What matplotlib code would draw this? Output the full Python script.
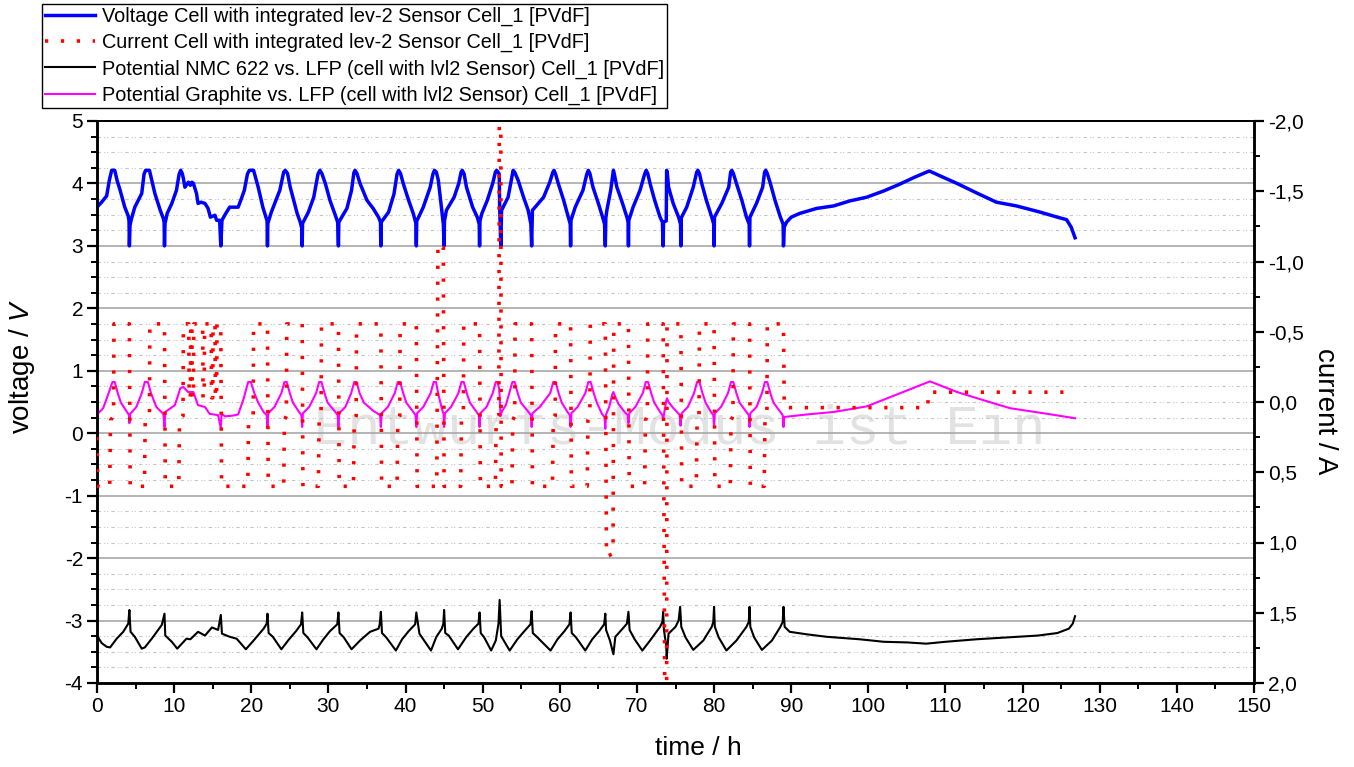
import matplotlib
matplotlib.use("Agg")
import numpy as np
import matplotlib.pyplot as plt
from matplotlib.ticker import MultipleLocator, FuncFormatter

plt.rcParams['font.family'] = ['Liberation Sans', 'DejaVu Sans']
plt.rcParams['axes.unicode_minus'] = False
plt.rcParams['mathtext.fontset'] = 'custom'
plt.rcParams['mathtext.rm'] = 'Liberation Sans'
plt.rcParams['mathtext.it'] = 'Liberation Sans:italic'

# (time / h, voltage / V)
voltage_pts = [
    (0.0, 3.62), (0.6, 3.70), (1.25, 3.80), (1.6, 4.05), (1.9, 4.21), (2.3, 4.21), (2.6, 4.05), (3.0, 3.89),
    (3.6, 3.62), (4.05, 3.48), (4.15, 3.40), (4.2, 3.0),
    (4.28, 3.33), (4.5, 3.45), (4.9, 3.62), (5.8, 3.84), (6.1, 4.15), (6.3, 4.21), (6.8, 4.21), (7.5, 3.84),
    (8.2, 3.57), (8.6, 3.44), (8.7, 3.38), (8.75, 3.0),
    (8.82, 3.36), (9.1, 3.52), (9.7, 3.68), (10.3, 3.89), (10.65, 4.15), (10.85, 4.21), (11.05, 4.16),
    (11.2, 4.08), (11.4, 3.94), (11.85, 4.02), (12.1, 3.97), (12.3, 4.02), (12.5, 4.0), (12.9, 3.84),
    (13.1, 3.68), (13.5, 3.70), (14.0, 3.68), (14.4, 3.60), (14.7, 3.46), (15.3, 3.49), (15.5, 3.41),
    (15.9, 3.41), (16.05, 3.0),
    (16.2, 3.41), (16.6, 3.50), (17.2, 3.62), (18.3, 3.62), (18.7, 3.75), (19.1, 3.89), (19.5, 4.15),
    (19.75, 4.21), (20.3, 4.21), (20.9, 3.94), (21.5, 3.62), (21.9, 3.46), (22.05, 3.40), (22.1, 3.0),
    (22.15, 3.36), (22.6, 3.54), (23.2, 3.73), (23.7, 3.89), (24.2, 4.18), (24.4, 4.21), (24.7, 4.16),
    (25.05, 3.94), (25.5, 3.73), (25.95, 3.52), (26.35, 3.38), (26.55, 3.28), (26.6, 3.0),
    (26.65, 3.36), (27.4, 3.54), (28.1, 3.78), (28.65, 4.15), (28.9, 4.21), (29.15, 4.16), (29.6, 4.0),
    (30.2, 3.73), (30.9, 3.49), (31.2, 3.38), (31.3, 3.0),
    (31.35, 3.38), (32.4, 3.60), (33.0, 3.89), (33.3, 4.17), (33.45, 4.21), (33.7, 4.16), (34.1, 4.0),
    (35.0, 3.73), (35.8, 3.60), (36.5, 3.46), (36.75, 3.38), (36.8, 3.0),
    (36.85, 3.38), (37.8, 3.54), (38.5, 3.83), (38.9, 4.15), (39.1, 4.21), (39.35, 4.16), (39.7, 4.0),
    (40.4, 3.73), (41.0, 3.52), (41.35, 3.36), (41.4, 3.0),
    (41.45, 3.40), (41.7, 3.46), (42.3, 3.62), (43.2, 3.94), (43.55, 4.15), (43.75, 4.21), (44.0, 4.18),
    (44.25, 4.05), (44.7, 3.57), (44.9, 3.35), (45.0, 3.0),
    (45.05, 3.40), (45.3, 3.57), (46.3, 3.78), (46.9, 4.0), (47.2, 4.18), (47.35, 4.21), (47.6, 4.15),
    (47.9, 3.94), (48.7, 3.62), (49.3, 3.46), (49.55, 3.35), (49.6, 3.0),
    (49.65, 3.40), (49.9, 3.52), (50.6, 3.73), (51.3, 4.0), (51.65, 4.18), (51.8, 4.21), (52.0, 4.18),
    (52.15, 4.15), (52.2, 3.65), (52.35, 3.0),
    (52.45, 3.57), (53.3, 3.78), (53.7, 4.05), (53.95, 4.21), (54.15, 4.18), (54.6, 4.05), (55.3, 3.78),
    (55.9, 3.57), (56.25, 3.35), (56.35, 3.0),
    (56.45, 3.57), (56.8, 3.62), (57.9, 3.78), (58.7, 4.02), (59.1, 4.18), (59.25, 4.21), (59.45, 4.15),
    (59.8, 4.0), (60.5, 3.73), (61.1, 3.46), (61.35, 3.35), (61.4, 3.0),
    (61.45, 3.41), (62.0, 3.62), (63.0, 3.89), (63.5, 4.15), (63.7, 4.21), (63.9, 4.16), (64.3, 3.94),
    (65.0, 3.68), (65.55, 3.46), (65.8, 3.35), (65.9, 3.0),
    (65.97, 3.45), (66.1, 3.57), (66.6, 3.89), (66.95, 4.21), (67.05, 4.16), (67.4, 3.94), (68.0, 3.73),
    (68.7, 3.46), (68.85, 3.38), (68.9, 3.0),
    (68.95, 3.41), (69.5, 3.62), (70.4, 3.89), (71.0, 4.15), (71.2, 4.21), (71.4, 4.16), (71.7, 4.0),
    (72.3, 3.73), (73.0, 3.46), (73.3, 3.38), (73.4, 3.0),
    (73.45, 3.38), (73.8, 3.40), (73.85, 4.21), (73.95, 4.15), (74.1, 3.94), (74.7, 3.68), (75.4, 3.46),
    (75.65, 3.35), (75.7, 3.0),
    (75.75, 3.45), (76.45, 3.62), (77.3, 3.94), (77.75, 4.18), (77.9, 4.21), (78.1, 4.16), (78.4, 4.0),
    (79.0, 3.73), (79.7, 3.46), (79.95, 3.35), (80.0, 3.0),
    (80.05, 3.46), (81.0, 3.68), (81.9, 3.94), (82.15, 4.18), (82.3, 4.21), (82.5, 4.16), (82.9, 4.0),
    (83.6, 3.73), (84.2, 3.46), (84.55, 3.35), (84.6, 3.0),
    (84.65, 3.46), (85.5, 3.68), (86.3, 3.94), (86.55, 4.18), (86.7, 4.21), (86.9, 4.16), (87.3, 4.0),
    (87.9, 3.73), (88.6, 3.46), (88.95, 3.35), (89.0, 3.0),
    (89.1, 3.30), (89.4, 3.38), (90.0, 3.46), (91.1, 3.52), (93.3, 3.60), (95.5, 3.64), (97.6, 3.72),
    (99.8, 3.78), (102.0, 3.88), (104.1, 3.99), (106.0, 4.10), (107.9, 4.20), (109.5, 4.11), (111.5, 4.0),
    (114.0, 3.85), (116.6, 3.70), (119.2, 3.64), (122.3, 3.54), (124.5, 3.46), (125.7, 3.42), (126.3, 3.30),
    (126.8, 3.13),
]

# (time / h, current / A), right axis
current_pts = [
    (0.0, 0.25), (0.1, 0.6), (1.65, 0.6), (1.75, 0.13), (2.15, 0.1), (2.2, -0.556), (4.2, -0.556), (4.3, 0.6),
    (6.15, 0.6), (6.25, 0.13), (6.8, 0.1), (6.85, -0.556), (8.75, -0.556), (8.85, 0.6),
    (10.6, 0.6), (10.7, 0.13), (11.15, 0.1), (11.2, -0.556), (11.9, -0.556), (11.95, -0.03), (12.1, -0.03),
    (12.15, -0.556), (12.3, -0.556), (12.35, -0.03), (12.5, -0.03), (12.55, -0.556), (13.7, -0.556),
    (13.75, -0.03), (13.9, -0.03), (13.95, -0.556), (14.8, -0.556), (14.85, -0.03), (15.0, -0.03),
    (15.05, -0.556), (15.3, -0.556), (15.35, -0.03), (15.5, -0.03), (15.55, -0.556), (16.05, -0.556),
    (16.15, 0.6),
    (19.55, 0.6), (19.65, 0.13), (20.25, 0.1), (20.3, -0.556), (22.1, -0.556), (22.2, 0.6),
    (24.2, 0.6), (24.3, 0.13), (24.55, 0.1), (24.6, -0.556), (26.6, -0.556), (26.7, 0.6),
    (28.7, 0.6), (28.8, 0.13), (29.05, 0.1), (29.1, -0.556), (31.3, -0.556), (31.4, 0.6),
    (33.25, 0.6), (33.35, 0.13), (33.6, 0.1), (33.65, -0.556), (36.8, -0.556), (36.9, 0.6),
    (38.9, 0.6), (39.0, 0.13), (39.25, 0.1), (39.3, -0.556), (41.4, -0.556), (41.5, 0.6),
    (44.05, 0.6), (44.2, -1.13), (44.9, -1.10), (45.0, 0.6),
    (47.15, 0.6), (47.25, 0.13), (47.5, 0.1), (47.55, -0.556), (49.6, -0.556), (49.7, 0.6),
    (51.65, 0.6), (51.75, 0.13), (52.1, 0.1), (52.15, -1.97), (52.35, -1.97), (52.4, 0.6),
    (53.8, 0.6), (53.9, 0.13), (54.15, 0.1), (54.2, -0.556), (56.35, -0.556), (56.45, 0.6),
    (59.05, 0.6), (59.15, 0.13), (59.4, 0.1), (59.45, -0.556), (61.4, -0.556), (61.5, 0.6),
    (63.55, 0.6), (63.65, 0.13), (63.9, 0.1), (63.95, -0.556), (65.9, -0.556), (66.05, 1.1), (66.9, 1.08),
    (67.0, -0.556), (68.9, -0.556), (69.0, 0.6),
    (71.0, 0.6), (71.1, 0.13), (71.35, 0.1), (71.4, -0.556), (73.4, -0.556), (73.6, 2.0), (73.85, 2.0),
    (73.9, -0.556), (75.7, -0.556), (75.8, 0.6),
    (77.7, 0.6), (77.8, 0.13), (78.05, 0.1), (78.1, -0.556), (80.0, -0.556), (80.1, 0.6),
    (82.1, 0.6), (82.2, 0.13), (82.45, 0.1), (82.5, -0.556), (84.6, -0.556), (84.7, 0.6),
    (86.5, 0.6), (86.6, 0.13), (86.85, 0.1), (86.9, -0.556), (89.0, -0.556), (89.1, 0.04),
    (107.7, 0.04), (107.8, -0.07), (126.3, -0.07),
]

# NMC 622 vs. LFP potential
nmc_pts = [
    (0.0, -3.24), (0.6, -3.36), (1.25, -3.42), (1.7, -3.43), (2.55, -3.29), (3.4, -3.18), (4.05, -3.05),
    (4.2, -2.83),
    (4.35, -3.18), (4.9, -3.26), (5.8, -3.45), (6.2, -3.43), (7.1, -3.29), (8.4, -3.07), (8.75, -2.89),
    (8.85, -3.24), (9.7, -3.34), (10.4, -3.45), (11.6, -3.29), (12.1, -3.30), (13.1, -3.18), (14.0, -3.24),
    (14.9, -3.11), (15.7, -3.15), (16.05, -2.91),
    (16.2, -3.21), (17.2, -3.26), (18.1, -3.29), (19.3, -3.46), (20.3, -3.32), (21.6, -3.13), (22.0, -3.05),
    (22.1, -2.89),
    (22.25, -3.20), (22.8, -3.26), (23.9, -3.46), (24.9, -3.30), (25.8, -3.17), (26.45, -3.06), (26.6, -2.87),
    (26.75, -3.20), (27.3, -3.27), (28.45, -3.46), (29.35, -3.30), (30.2, -3.17), (31.15, -3.06), (31.3, -2.87),
    (31.45, -3.20), (32.0, -3.27), (33.0, -3.46), (34.1, -3.32), (35.4, -3.18), (36.5, -3.13), (36.65, -3.06),
    (36.8, -2.86),
    (36.95, -3.20), (37.5, -3.27), (38.75, -3.48), (39.55, -3.30), (40.4, -3.17), (41.25, -3.06), (41.4, -2.87),
    (41.8, -3.21), (43.3, -3.48), (44.0, -3.26), (44.7, -3.13), (44.9, -3.05), (45.0, -2.83),
    (45.15, -3.20), (45.6, -3.24), (46.8, -3.46), (47.9, -3.26), (48.8, -3.13), (49.45, -3.05), (49.6, -2.87),
    (49.75, -3.20), (50.2, -3.27), (51.1, -3.48), (51.7, -3.32), (52.05, -3.05), (52.2, -2.67), (52.4, -3.25),
    (53.5, -3.48), (54.5, -3.30), (55.4, -3.17), (56.2, -3.06), (56.35, -2.85),
    (56.5, -3.20), (57.1, -3.27), (58.8, -3.48), (59.7, -3.30), (60.6, -3.17), (61.25, -3.06), (61.4, -2.87),
    (61.55, -3.20), (62.1, -3.27), (63.3, -3.48), (64.2, -3.30), (65.1, -3.17), (65.75, -3.06), (65.9, -2.89),
    (66.0, -3.15), (66.5, -3.32), (66.95, -3.54), (67.2, -3.26), (68.0, -3.15), (68.7, -3.05), (68.9, -2.86),
    (69.05, -3.15), (69.7, -3.30), (70.7, -3.48), (71.7, -3.32), (73.0, -3.10), (73.3, -3.02), (73.4, -2.86),
    (73.5, -3.15), (73.8, -3.40), (73.85, -3.61), (74.1, -3.21), (75.0, -3.10), (75.4, -3.0), (75.6, -2.78),
    (75.75, -3.10), (76.3, -3.27), (77.3, -3.47), (78.6, -3.32), (79.7, -3.10), (79.9, -3.02), (80.0, -2.78),
    (80.1, -3.10), (80.6, -3.27), (81.6, -3.48), (82.9, -3.32), (84.2, -3.10), (84.5, -3.02), (84.6, -2.78),
    (84.7, -3.10), (85.2, -3.27), (86.2, -3.47), (87.5, -3.32), (88.6, -3.10), (88.9, -3.02), (89.0, -2.78),
    (89.15, -3.10), (89.8, -3.18), (92.0, -3.22), (94.6, -3.26), (98.9, -3.30), (102.0, -3.34), (105.0, -3.35),
    (107.5, -3.37), (110.0, -3.34), (114.0, -3.30), (118.0, -3.27), (122.0, -3.24), (124.5, -3.20),
    (126.0, -3.13), (126.5, -3.05), (126.8, -2.93),
]

# Graphite vs. LFP potential
graphite_pts = [
    (0.0, 0.30), (0.8, 0.40), (1.5, 0.64), (2.0, 0.82), (2.3, 0.82), (2.7, 0.64), (3.1, 0.49), (3.9, 0.34),
    (4.15, 0.29), (4.2, 0.16),
    (4.3, 0.31), (5.1, 0.42), (5.8, 0.64), (6.2, 0.82), (6.6, 0.82), (7.0, 0.64), (7.7, 0.42), (8.6, 0.31),
    (8.75, 0.10),
    (8.85, 0.34), (10.1, 0.45), (10.8, 0.72), (11.2, 0.74), (11.8, 0.66), (12.5, 0.66), (13.1, 0.45),
    (14.0, 0.42), (14.6, 0.31), (15.7, 0.29), (16.05, 0.08),
    (16.15, 0.31), (16.6, 0.27), (17.5, 0.28), (18.3, 0.30), (19.0, 0.55), (19.6, 0.82), (19.95, 0.82),
    (20.4, 0.64), (20.9, 0.49), (21.6, 0.34), (22.0, 0.29), (22.1, 0.10),
    (22.2, 0.32), (23.0, 0.42), (23.9, 0.64), (24.3, 0.82), (24.6, 0.82), (25.0, 0.64), (25.4, 0.49),
    (26.2, 0.34), (26.5, 0.29), (26.6, 0.10),
    (26.7, 0.32), (27.5, 0.42), (28.4, 0.64), (28.8, 0.82), (29.1, 0.82), (29.5, 0.64), (29.9, 0.49),
    (30.9, 0.34), (31.2, 0.29), (31.3, 0.10),
    (31.4, 0.32), (32.2, 0.42), (32.95, 0.64), (33.35, 0.82), (33.65, 0.82), (34.05, 0.64), (34.6, 0.49),
    (35.8, 0.36), (36.7, 0.29), (36.8, 0.10),
    (36.9, 0.32), (37.7, 0.42), (38.6, 0.64), (39.0, 0.82), (39.3, 0.82), (39.7, 0.64), (40.1, 0.49),
    (41.0, 0.34), (41.3, 0.29), (41.4, 0.10),
    (41.5, 0.32), (42.3, 0.42), (43.25, 0.64), (43.65, 0.82), (43.95, 0.82), (44.3, 0.60), (44.7, 0.40),
    (44.95, 0.30), (45.0, 0.10),
    (45.1, 0.32), (45.9, 0.42), (46.85, 0.64), (47.25, 0.82), (47.55, 0.82), (47.95, 0.64), (48.35, 0.49),
    (49.2, 0.34), (49.5, 0.29), (49.6, 0.10),
    (49.7, 0.32), (50.5, 0.42), (51.3, 0.64), (51.7, 0.82), (51.95, 0.82), (52.15, 0.70), (52.3, 0.34),
    (52.35, 0.28),
    (52.45, 0.34), (53.0, 0.45), (53.45, 0.64), (53.85, 0.82), (54.15, 0.82), (54.55, 0.64), (54.95, 0.49),
    (55.95, 0.34), (56.25, 0.29), (56.35, 0.10),
    (56.45, 0.32), (57.4, 0.42), (58.75, 0.64), (59.15, 0.82), (59.45, 0.82), (59.85, 0.64), (60.25, 0.49),
    (61.0, 0.34), (61.3, 0.29), (61.4, 0.10),
    (61.5, 0.32), (62.3, 0.42), (63.3, 0.64), (63.7, 0.82), (64.0, 0.82), (64.4, 0.64), (64.8, 0.49),
    (65.5, 0.30), (65.8, 0.26), (65.9, 0.07),
    (66.0, 0.30), (66.4, 0.42), (66.8, 0.62), (66.95, 0.66), (67.2, 0.58), (67.6, 0.47), (68.4, 0.34),
    (68.8, 0.29), (68.9, 0.16),
    (69.0, 0.32), (69.8, 0.42), (70.75, 0.64), (71.15, 0.82), (71.45, 0.82), (71.85, 0.64), (72.25, 0.49),
    (73.0, 0.34), (73.3, 0.29), (73.4, 0.21),
    (73.5, 0.30), (73.8, 0.52), (73.9, 0.56), (74.1, 0.50), (74.6, 0.42), (75.2, 0.34), (75.55, 0.29),
    (75.65, 0.12),
    (75.8, 0.32), (76.6, 0.42), (77.4, 0.64), (77.8, 0.82), (78.1, 0.82), (78.5, 0.64), (78.9, 0.49),
    (79.6, 0.34), (79.9, 0.29), (80.0, 0.10),
    (80.1, 0.32), (80.9, 0.42), (81.8, 0.64), (82.2, 0.82), (82.5, 0.82), (82.9, 0.64), (83.3, 0.49),
    (84.2, 0.34), (84.5, 0.29), (84.6, 0.10),
    (84.7, 0.32), (85.5, 0.42), (86.2, 0.64), (86.6, 0.82), (86.9, 0.82), (87.3, 0.64), (87.7, 0.49),
    (88.6, 0.34), (88.9, 0.29), (89.0, 0.10),
    (89.1, 0.26), (92.0, 0.30), (95.5, 0.34), (99.8, 0.43), (104.1, 0.64), (108.0, 0.83), (111.5, 0.66),
    (114.9, 0.53), (118.4, 0.40), (122.7, 0.32), (126.8, 0.24),
]

labels = [
    "Voltage Cell with integrated lev-2 Sensor Cell_1 [PVdF]",
    "Current Cell with integrated lev-2 Sensor Cell_1 [PVdF]",
    "Potential NMC 622 vs. LFP (cell with lvl2 Sensor) Cell_1 [PVdF]",
    "Potential Graphite vs. LFP (cell with lvl2 Sensor) Cell_1 [PVdF]",
]

W, H = 1354, 767
fig = plt.figure(figsize=(W / 100, H / 100), dpi=100)
ax = fig.add_axes([97 / W, 1 - 683 / H, (1254 - 97) / W, (683 - 121) / H])
ax2 = ax.twinx()

vt, vv = np.array(voltage_pts).T
ct, cv = np.array(current_pts).T
nt, nv = np.array(nmc_pts).T
gt, gv = np.array(graphite_pts).T

l1, = ax.plot(vt, vv, color='#0000ff', lw=2.5, zorder=3)
l3, = ax.plot(nt, nv, color='black', lw=1.5, zorder=3)
l4, = ax.plot(gt, gv, color='#ff00ff', lw=1.5, zorder=3)
l2, = ax2.plot(ct, cv, color='#ff0000', lw=2.6, linestyle=(0, (0.9, 3.5)),
               dash_capstyle='butt', zorder=3)

ax.set_xlim(0, 150)
ax.set_ylim(-4, 5)
ax2.set_ylim(2.0, -2.0)

ax.xaxis.set_major_locator(MultipleLocator(10))
ax.xaxis.set_minor_locator(MultipleLocator(5))
ax.yaxis.set_major_locator(MultipleLocator(1))
ax.yaxis.set_minor_locator(MultipleLocator(0.25))
ax2.yaxis.set_major_locator(MultipleLocator(0.5))
ax2.yaxis.set_minor_locator(MultipleLocator(0.25))
ax2.yaxis.set_major_formatter(FuncFormatter(lambda v, p: f"{v:.1f}".replace('.', ',')))

ax.set_axisbelow(True)
ax.grid(which='major', axis='y', color='#a8a8a8', lw=1.2)
ax.grid(which='minor', axis='y', color='#c4c4c4', lw=0.8, linestyle=(0, (3, 3, 1, 1.5, 1, 3)))

for a in (ax, ax2):
    for s in ('left', 'right', 'bottom'):
        a.spines[s].set_linewidth(1.8)
    a.spines['top'].set_linewidth(1.4)
ax.tick_params(axis='both', which='major', direction='out', length=7, width=1.6, labelsize=15, pad=3)
ax.tick_params(axis='both', which='minor', direction='out', length=4, width=1.4)
ax.tick_params(axis='y', which='both', right=False)
ax2.tick_params(axis='y', which='major', direction='out', length=7, width=1.6, labelsize=15, pad=3)
ax2.tick_params(axis='y', which='minor', direction='out', length=4, width=1.4)

# watermark
wm = ax.text(680 / W, 1 - 430 / H, "Entwurfs-Modus ist Ein", transform=fig.transFigure,
             family='Liberation Mono', fontsize=40, color='#e2e2e2', ha='center', va='center',
             zorder=0.1)

fig.text(22 / W, 1 - 366 / H, "voltage / $\\mathit{V}$", rotation=90, ha='center', va='center', fontsize=20)
fig.text(1325 / W, 1 - 411 / H, "current / A", rotation=270, ha='center', va='center', fontsize=20)
fig.text(698 / W, 1 - 748 / H, "time / h", ha='center', va='center', fontsize=19)

fig.legend([l1, l2, l3, l4], labels, loc='upper left', bbox_to_anchor=(42 / W, 1 - 4 / H),
           fontsize=14.3, frameon=True, fancybox=False, edgecolor='black', framealpha=1,
           handlelength=2.5, borderpad=0.15, labelspacing=0.35, handletextpad=0.35, borderaxespad=0)

fig.savefig("out.png", dpi=100)
